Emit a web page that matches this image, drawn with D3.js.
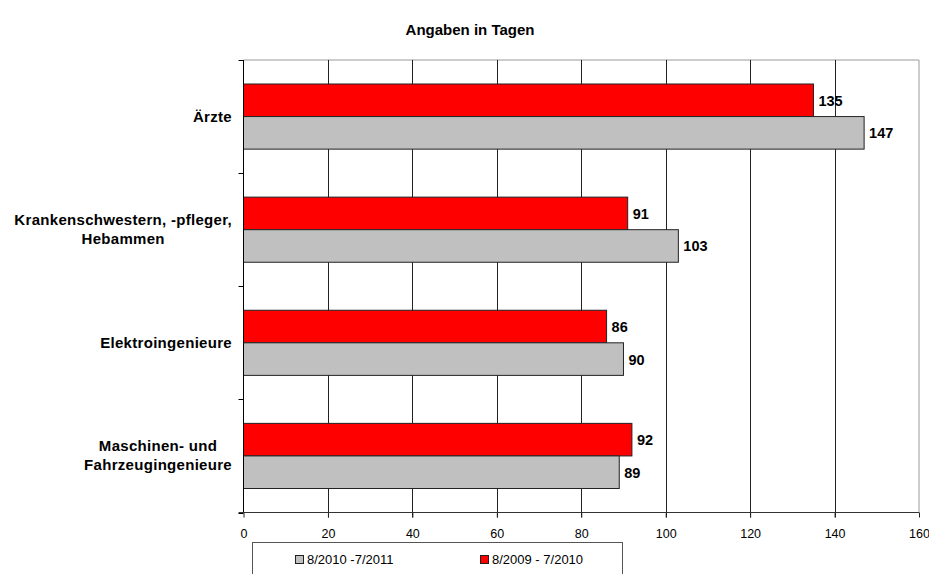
<!DOCTYPE html>
<html><head><meta charset="utf-8">
<script src="https://cdn.jsdelivr.net/npm/d3@7"></script>
<style>body{margin:0;background:#fff}svg{display:block;font-family:"Liberation Sans",Arial,sans-serif}</style>
</head><body>
<svg id="c" width="929" height="574"></svg>
<script>
const categories = [["Ärzte"], ["Krankenschwestern, -pfleger,", "Hebammen"], ["Elektroingenieure"], ["Maschinen- und", "Fahrzeugingenieure"]];
const series1Name = "8/2009 - 7/2010";
const series1 = [135, 91, 86, 92];
const series2Name = "8/2010 -7/2011";
const series2 = [147, 103, 90, 89];
const xTicks = [0, 20, 40, 60, 80, 100, 120, 140, 160];
const title = "Angaben in Tagen";

const svg = d3.select("#c");
const L = 243.5, R = 919, T = 60, B = 512.5;
const x = d3.scaleLinear().domain([0, 160]).range([L, R]);
const y = d3.scaleBand().domain(d3.range(categories.length)).range([T, B]).paddingInner(0).paddingOuter(0);
const bandPad = 24;

svg.append("text").attr("x", 470).attr("y", 35).attr("text-anchor", "middle")
  .attr("font-size", 15).attr("font-weight", "bold").text(title);

// border top/right
svg.append("line").attr("x1", L).attr("x2", R).attr("y1", T).attr("y2", T).attr("stroke", "#9a9a9a");
svg.append("line").attr("x1", R).attr("x2", R).attr("y1", T).attr("y2", B).attr("stroke", "#9a9a9a");

// gridlines
svg.append("g").selectAll("line").data(xTicks.filter(d => d > 0 && d < 160)).join("line")
  .attr("x1", d => Math.round(x(d)) + 0.5).attr("x2", d => Math.round(x(d)) + 0.5)
  .attr("y1", T).attr("y2", B + 5).attr("stroke", "#222");

// bars
const bh = (y.bandwidth() - 2 * bandPad) / 2;
const g = svg.append("g");
categories.forEach((c, i) => {
  const y0 = y(i) + bandPad;
  g.append("rect").attr("x", x(0)).attr("y", y0).attr("width", x(series1[i]) - x(0)).attr("height", bh)
    .attr("fill", "#ff0000").attr("stroke", "#222").attr("stroke-width", 1);
  g.append("rect").attr("x", x(0)).attr("y", y0 + bh).attr("width", x(series2[i]) - x(0)).attr("height", bh)
    .attr("fill", "#c0c0c0").attr("stroke", "#222").attr("stroke-width", 1);
  g.append("text").attr("x", x(series1[i]) + 5).attr("y", y0 + bh / 2 + 5.5).attr("font-size", 14.5)
    .attr("font-weight", "bold").text(series1[i]);
  g.append("text").attr("x", x(series2[i]) + 5).attr("y", y0 + bh * 1.5 + 5.5).attr("font-size", 14.5)
    .attr("font-weight", "bold").text(series2[i]);
});

// y axis
svg.append("line").attr("x1", L).attr("x2", L).attr("y1", T).attr("y2", B).attr("stroke", "#000");
svg.append("g").selectAll("line").data(d3.range(categories.length + 1)).join("line")
  .attr("x1", L - 5).attr("x2", L).attr("y1", i => Math.round(T + i * y.step()) + 0.5).attr("y2", i => Math.round(T + i * y.step()) + 0.5)
  .attr("stroke", "#000");

// x axis
const xa = svg.append("g").attr("transform", `translate(0,${B})`)
  .call(d3.axisBottom(x).tickValues(xTicks).tickSize(5).tickFormat(d3.format("d")));
xa.select(".domain").remove();
xa.selectAll("line").attr("stroke", "#222");
xa.selectAll("text").attr("font-size", 12.5).attr("font-family", "Liberation Sans, Arial, sans-serif")
  .attr("fill", "#000").attr("y", 25.5).attr("dy", 0);
svg.append("line").attr("x1", L - 5).attr("x2", R).attr("y1", B).attr("y2", B).attr("stroke", "#333");

// category labels
const lab = svg.append("g").attr("font-size", 15).attr("font-weight", "bold").attr("letter-spacing", 0.3);
categories.forEach((lines, i) => {
  const cy = y(i) + y.bandwidth() / 2;
  const t = lab.append("text").attr("text-anchor", "middle");
  const lh = 19;
  lines.forEach((ln, k) => {
    t.append("tspan").attr("x", 0).attr("y", cy + 5 + (k - (lines.length - 1) / 2) * lh).text(ln);
  });
  const w = t.node().getBBox().width;
  t.attr("transform", `translate(${232 - w / 2},0)`);
});

// legend
const lg = svg.append("g");
lg.append("rect").attr("x", 252.5).attr("y", 542.5).attr("width", 370).attr("height", 40)
  .attr("fill", "#fff").attr("stroke", "#555");
const items = [[series2Name, "#c0c0c0", 295], [series1Name, "#ff0000", 480]];
items.forEach(([n, col, lx]) => {
  lg.append("rect").attr("x", lx + 0.5).attr("y", 555.5).attr("width", 8).attr("height", 8)
    .attr("fill", col).attr("stroke", "#222");
  lg.append("text").attr("x", lx + 12).attr("y", 564).attr("font-size", 13).text(n);
});
</script>
</body></html>
